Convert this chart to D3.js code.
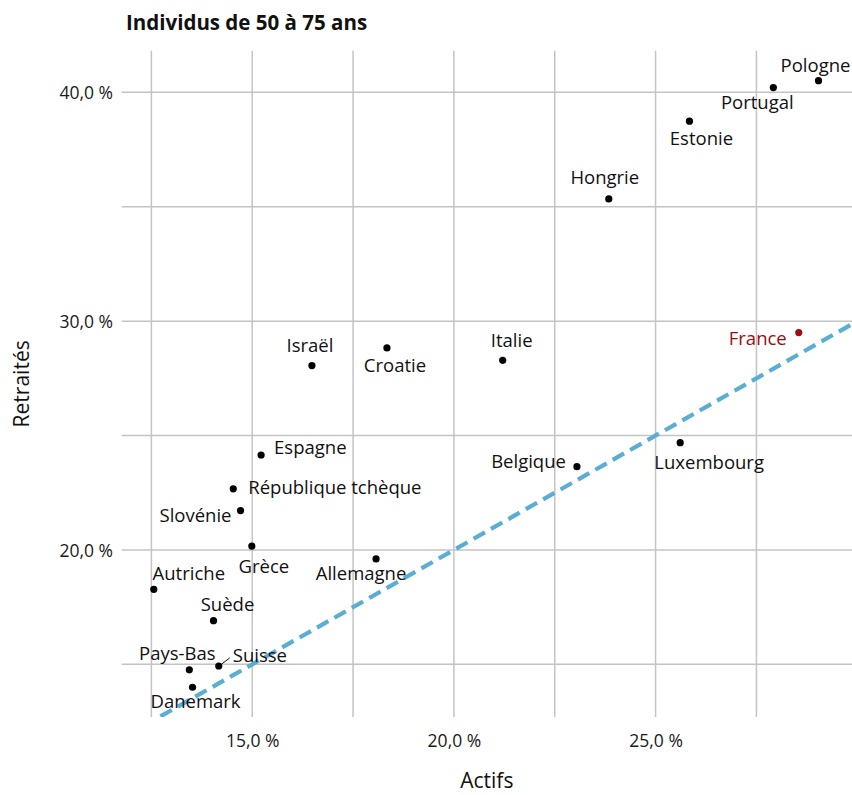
<!DOCTYPE html>
<html><head><meta charset="utf-8">
<script src="https://cdn.jsdelivr.net/npm/d3@7"></script>
<style>
html,body{margin:0;padding:0;background:#fff;}
svg{display:block;}
text{font-family:"Open Sans","Noto Sans",sans-serif;}
</style></head>
<body><svg id="c" width="852" height="795"></svg>
<script>
// ---- data ----
const countries = ["Pologne","Portugal","Estonie","Hongrie","France","Italie","Belgique","Luxembourg","Israël","Croatie","Espagne","République tchèque","Slovénie","Grèce","Allemagne","Autriche","Suède","Pays-Bas","Suisse","Danemark"];
const actifs    = [29.04,27.92,25.84,23.84,28.55,21.21,23.05,25.61,16.48,18.34,15.22,14.53,14.71,14.99,18.07,12.56,14.04,13.44,14.17,13.52];
const retraites = [40.51,40.21,38.74,35.34,29.50,28.29,23.64,24.69,28.06,28.83,24.15,22.67,21.72,20.17,19.61,18.28,16.91,14.76,14.93,14.00];
const xTicks = [15,20,25];
const yTicks = [20,30,40];
const xMinor = [12.5,17.5,22.5,27.5];
const yMinor = [15,25,35];
const title = "Individus de 50 à 75 ans";
const xTitle = "Actifs", yTitle = "Retraités";
const highlight = "France";

// ---- label layout (pixel offsets from point: dx, dy to baseline, anchor) ----
const labelLayout = {
  "Pologne":[-3,-9,"middle"], "Portugal":[-16,21,"middle"], "Estonie":[12,24,"middle"],
  "Hongrie":[-4,-15,"middle"], "France":[-12,12,"end"], "Italie":[9,-13,"middle"],
  "Belgique":[-11,1,"end"], "Luxembourg":[29,26,"middle"], "Israël":[-2,-14,"middle"],
  "Croatie":[8,24,"middle"], "Espagne":[13,-1,"start"], "République tchèque":[15,5,"start"],
  "Slovénie":[-9,11,"end"], "Grèce":[12,27,"middle"], "Allemagne":[-15,21,"middle"],
  "Autriche":[35,-9,"middle"], "Suède":[14,-10,"middle"], "Pays-Bas":[-12,-10,"middle"],
  "Suisse":[14,-4,"start"], "Danemark":[3,21,"middle"]
};

const svg = d3.select("#c");
const L = 121.7, R = 852, T = 50.7, B = 717;
const x = d3.scaleLinear().domain([11.764, 29.87]).range([L, R]);
const y = d3.scaleLinear().domain([12.70, 41.82]).range([B, T]);
const fmt = v => d3.format(".1f")(v).replace(".", ",") + " %";
const grid = "#c4c4c4";

const g = svg.append("g");
// grid
g.selectAll(".vg").data(xTicks.concat(xMinor)).join("line")
  .attr("x1", d => x(d)).attr("x2", d => x(d)).attr("y1", T).attr("y2", B)
  .attr("stroke", grid).attr("stroke-width", 1.5);
g.selectAll(".hg").data(yTicks.concat(yMinor)).join("line")
  .attr("y1", d => y(d)).attr("y2", d => y(d)).attr("x1", L).attr("x2", R)
  .attr("stroke", grid).attr("stroke-width", 1.5);

// axes (labels only)
const xAxis = d3.axisBottom(x).tickValues(xTicks).tickFormat(fmt).tickSize(0).tickPadding(0);
const ax = svg.append("g").attr("transform", `translate(0,${B})`).call(xAxis);
ax.select(".domain").remove();
ax.selectAll("text").attr("y", 30).attr("dy", 0).attr("font-size", 17.5).attr("fill", "#1a1a1a")
  .attr("font-family", "'Open Sans',sans-serif");
const yAxis = d3.axisLeft(y).tickValues(yTicks).tickFormat(fmt).tickSize(0).tickPadding(0);
const ay = svg.append("g").attr("transform", `translate(113,0)`).call(yAxis);
ay.select(".domain").remove();
ay.selectAll("text").attr("x", 0).attr("dy", "0.35em").attr("font-size", 17.5).attr("fill", "#1a1a1a")
  .attr("font-family", "'Open Sans',sans-serif");

// clip
svg.append("clipPath").attr("id", "clp").append("rect")
  .attr("x", L).attr("y", T).attr("width", R - L).attr("height", B - T);

// y = x reference line
svg.append("line").attr("clip-path", "url(#clp)")
  .attr("x1", x(11)).attr("y1", y(11)).attr("x2", x(31)).attr("y2", y(31))
  .attr("stroke", "#5aaed3").attr("stroke-width", 4.2).attr("stroke-dasharray", "13,7");

const data = countries.map((c, i) => ({c, x: actifs[i], y: retraites[i]}));

// Suisse segment
const sw = data.find(d => d.c === "Suisse");
svg.append("line").attr("x1", x(sw.x) + 3).attr("y1", y(sw.y) - 2)
  .attr("x2", x(sw.x) + 11).attr("y2", y(sw.y) - 8).attr("stroke", "#111").attr("stroke-width", 1);

// points
svg.selectAll(".pt").data(data).join("circle")
  .attr("cx", d => x(d.x)).attr("cy", d => y(d.y)).attr("r", 3.6)
  .attr("fill", d => d.c === highlight ? "#9b0d12" : "#000");

// labels
svg.selectAll(".lb").data(data).join("text")
  .attr("x", d => x(d.x) + labelLayout[d.c][0])
  .attr("y", d => y(d.y) + labelLayout[d.c][1])
  .attr("text-anchor", d => labelLayout[d.c][2])
  .attr("font-size", 18.5)
  .attr("fill", d => d.c === highlight ? "#9b0d12" : "#111")
  .text(d => d.c);

// titles
svg.append("text").attr("x", 126).attr("y", 30).attr("font-size", 20.5).attr("font-weight", "bold")
  .attr("fill", "#111").text(title);
svg.append("text").attr("x", (L + R) / 2).attr("y", 788).attr("text-anchor", "middle")
  .attr("font-size", 21).attr("fill", "#111").text(xTitle);
svg.append("text").attr("transform", `translate(29,${(T + B) / 2}) rotate(-90)`)
  .attr("text-anchor", "middle").attr("font-size", 21).attr("fill", "#111").text(yTitle);
</script></body></html>
